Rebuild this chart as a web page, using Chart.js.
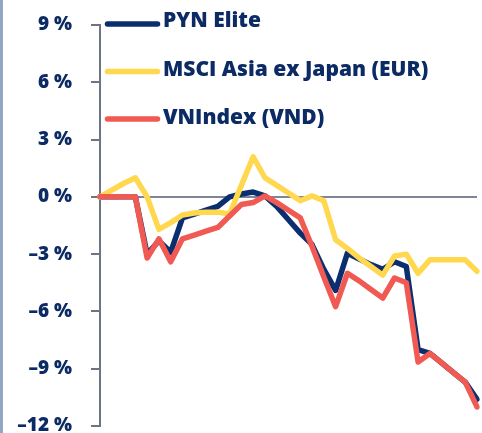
<!DOCTYPE html>
<html>
<head>
<meta charset="utf-8">
<script src="https://cdn.jsdelivr.net/npm/chart.js@4"></script>
<style>
  html, body { margin: 0; padding: 0; background: #fff; }
  #wrap { position: relative; width: 482px; height: 433px; }
  #stripe { position: absolute; left: 0; top: 0; width: 3px; height: 433px; background: #93a6c2; }
</style>
</head>
<body>
<div id="wrap">
  <canvas id="perfChart" width="482" height="433"></canvas>
  <div id="stripe"></div>
</div>
<script>
// weekly points, no x labels shown on the chart
const weeks = [];
for (let i = 0; i < 33; ++i) {
    weeks.push(i + 1);
}

const pynElite = [0, 0, 0, 0, -3.0, -2.3, -2.9, -1.1, -0.9, -0.7, -0.5, 0.0, 0.15, 0.25, 0.05, -0.5,
    -1.2, -1.9, -2.5, -3.8, -4.9, -2.95, -3.25, -3.55, -3.8, -3.4, -3.65, -8.0, -8.2, -8.7, -9.2, -9.7, -10.6];

const msciAsia = [0, 0.35, 0.7, 1.0, 0.0, -1.7, -1.35, -0.95, -0.85, -0.8, -0.8, -0.9, 0.6, 2.1, 1.0, 0.6,
    0.2, -0.2, 0.05, -0.2, -2.25, -2.7, -3.2, -3.65, -4.1, -3.1, -3.0, -4.0, -3.3, -3.3, -3.3, -3.3, -3.9];

const vnIndex = [0, 0, 0, 0, -3.2, -2.2, -3.4, -2.2, -2.0, -1.8, -1.6, -1.0, -0.4, -0.3, 0.05, -0.3,
    -0.7, -1.1, -2.6, -4.2, -5.75, -4.0, -4.4, -4.85, -5.3, -4.25, -4.5, -8.65, -8.2, -8.7, -9.2, -9.7, -11.0];

const yTicks = [9, 6, 3, 0, -3, -6, -9, -12];

const NAVY = '#0c2a63';
const AXIS_GREY = '#6c7486';
const TEXT_FONT = '"Open Sans", sans-serif';

function lineSet(label, data, color, order) {
    return {
        label: label,
        data: data,
        borderColor: color,
        backgroundColor: color,
        borderWidth: 5.5,
        borderJoinStyle: 'round',
        borderCapStyle: 'round',
        pointRadius: 0,
        tension: 0,
        order: order
    };
}

// legend drawn at fixed spots in the top left corner
const cornerLegend = {
    id: 'cornerLegend',
    afterDraw(chart) {
        const ctx = chart.ctx;
        ctx.save();
        chart.data.datasets.forEach((ds, i) => {
            const lineY = 24 + i * 47.5;
            ctx.strokeStyle = ds.borderColor;
            ctx.lineWidth = 5.5;
            ctx.lineCap = 'round';
            ctx.beginPath();
            ctx.moveTo(107.5, lineY);
            ctx.lineTo(157.5, lineY);
            ctx.stroke();

            ctx.fillStyle = NAVY;
            ctx.font = '800 21px ' + TEXT_FONT;
            ctx.textBaseline = 'alphabetic';
            ctx.textAlign = 'left';
            ctx.fillText(ds.label, 163, 27 + i * 48.5);
        });
        ctx.restore();
    }
};

const config = {
    type: 'line',
    data: {
        labels: weeks,
        datasets: [
            lineSet('PYN Elite', pynElite, '#0b2f6e', 2),
            lineSet('MSCI Asia ex Japan (EUR)', msciAsia, '#ffd84f', 1),
            lineSet('VNIndex (VND)', vnIndex, '#f05a52', 0)
        ]
    },
    options: {
        responsive: false,
        animation: false,
        layout: {
            padding: { left: 0, right: 5, top: 25, bottom: 7 }
        },
        plugins: {
            legend: { display: false },
            tooltip: { enabled: false }
        },
        scales: {
            x: {
                display: false
            },
            y: {
                min: -12,
                max: 9,
                afterBuildTicks: (scale) => {
                    scale.ticks = yTicks.map(v => ({ value: v }));
                },
                afterFit: (scale) => {
                    scale.width = 100;
                    scale.paddingTop = 0;
                    scale.paddingBottom = 0;
                },
                border: {
                    display: true,
                    color: AXIS_GREY,
                    width: 2
                },
                grid: {
                    drawOnChartArea: true,
                    color: (ctx) => (ctx.tick && ctx.tick.value === 0) ? '#7d8597' : 'transparent',
                    lineWidth: 2,
                    tickColor: AXIS_GREY,
                    tickLength: 9,
                    tickWidth: 2
                },
                ticks: {
                    padding: 19,
                    color: NAVY,
                    font: { family: TEXT_FONT, size: 19, weight: '800' },
                    callback: (v) => (v < 0 ? '\u2013' + Math.abs(v) : v) + ' %'
                }
            }
        }
    },
    plugins: [cornerLegend]
};

const perfChart = new Chart(document.getElementById('perfChart'), config);
</script>
</body>
</html>
